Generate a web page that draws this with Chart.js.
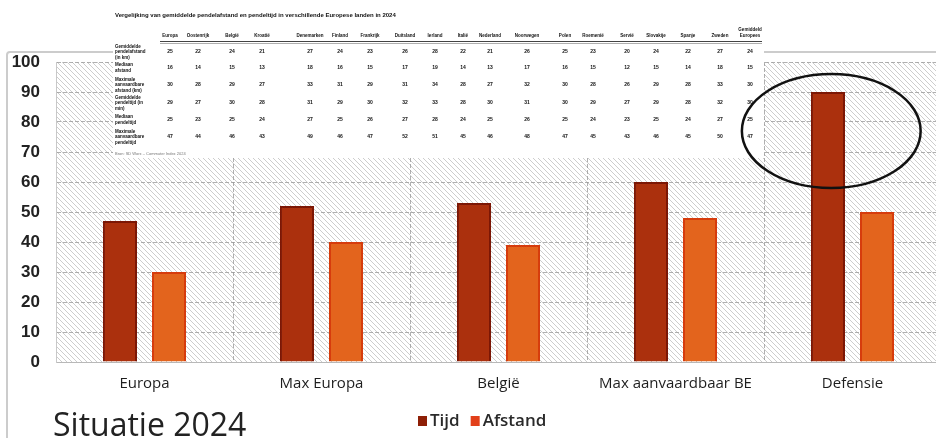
<!DOCTYPE html>
<html>
<head>
<meta charset="utf-8">
<title>Situatie 2024</title>
<script src="https://cdn.jsdelivr.net/npm/chart.js@4.4.1/dist/chart.umd.min.js"></script>
<style>
  html, body { margin: 0; padding: 0; background: #fff; overflow: hidden; }
  #wrap { width: 945px; height: 438px; }
</style>
</head>
<body>
<div id="wrap"><canvas id="chart" width="945" height="438"></canvas></div>
<script>
// --- chart data ---
const categories = ['Europa', 'Max Europa', 'België', 'Max aanvaardbaar BE', 'Defensie'];
const tijd = [47, 52, 53, 60, 90];
const afstand = [30, 40, 39, 48, 50];
const yTicks = [0, 10, 20, 30, 40, 50, 60, 70, 80, 90, 100];

// --- pasted table (top overlay) ---
const tableTitle = 'Vergelijking van gemiddelde pendelafstand en pendeltijd in verschillende Europese landen in 2024';
const tableCols = ['Europa', 'Oostenrijk', 'België', 'Kroatië', 'Denemarken', 'Finland', 'Frankrijk', 'Duitsland',
  'Ierland', 'Italië', 'Nederland', 'Noorwegen', 'Polen', 'Roemenië', 'Servië', 'Slovakije', 'Spanje', 'Zweden', 'Gemiddeld Europees'];
const tableRowLabels = [
  ['Gemiddelde', 'pendelafstand', '(in km)'],
  ['Mediaan', 'afstand'],
  ['Maximale', 'aanvaardbare', 'afstand (km)'],
  ['Gemiddelde', 'pendeltijd (in', 'min)'],
  ['Mediaan', 'pendeltijd'],
  ['Maximale', 'aanvaardbare', 'pendeltijd']
];
const rowAvgDist = [25, 22, 24, 21, 27, 24, 23, 26, 28, 22, 21, 26, 25, 23, 20, 24, 22, 27, 24];
const rowMedDist = [16, 14, 15, 13, 18, 16, 15, 17, 19, 14, 13, 17, 16, 15, 12, 15, 14, 18, 15];
const rowMaxDist = [30, 28, 29, 27, 33, 31, 29, 31, 34, 28, 27, 32, 30, 28, 26, 29, 28, 33, 30];
const rowAvgTime = [29, 27, 30, 28, 31, 29, 30, 32, 33, 28, 30, 31, 30, 29, 27, 29, 28, 32, 30];
const rowMedTime = [25, 23, 25, 24, 27, 25, 26, 27, 28, 24, 25, 26, 25, 24, 23, 25, 24, 27, 25];
const rowMaxTime = [47, 44, 46, 43, 49, 46, 47, 52, 51, 45, 46, 48, 47, 45, 43, 46, 45, 50, 47];
const tableNote = 'Bron: SD Worx – Commuter Index 2024';

// layout of the pasted table
const tableColX = [170, 198, 232, 262, 310, 340, 370, 405, 435, 463, 490, 527, 565, 593, 627, 656, 688, 720, 750];
const tableRowY = [52, 68, 85, 103, 120, 137];

// hatched background pattern
function makeHatch() {
  const s = 5;
  const c = document.createElement('canvas');
  c.width = s; c.height = s;
  const g = c.getContext('2d');
  g.fillStyle = '#ffffff';
  g.fillRect(0, 0, s, s);
  g.strokeStyle = '#cdcdcd';
  g.lineWidth = 1;
  g.beginPath();
  [-s, 0, s].forEach(k => { g.moveTo(k, 0); g.lineTo(k + s, s); });
  g.stroke();
  return g.createPattern(c, 'repeat');
}

const backdrop = {
  id: 'backdrop',
  beforeDraw(chart) {
    const { ctx, chartArea: a } = chart;
    ctx.save();
    ctx.fillStyle = '#fff';
    ctx.fillRect(0, 0, chart.width, chart.height);
    // outer frame
    ctx.strokeStyle = '#cccccc';
    ctx.lineWidth = 2;
    ctx.beginPath();
    ctx.moveTo(7, chart.height);
    ctx.lineTo(7, 55);
    ctx.quadraticCurveTo(7, 52, 10, 52);
    ctx.lineTo(chart.width, 52);
    ctx.stroke();
    ctx.fillStyle = makeHatch();
    ctx.fillRect(a.left, a.top, a.right - a.left, a.bottom - a.top);
    ctx.restore();
  }
};

const overlay = {
  id: 'overlay',
  afterDraw(chart) {
    const { ctx } = chart;
    const x = chart.scales.x, y = chart.scales.y;
    ctx.save();

    // pasted table
    ctx.fillStyle = '#ffffff';
    ctx.fillRect(113, 0, 651, 158);
    ctx.fillStyle = '#111';
    ctx.textBaseline = 'middle';
    ctx.textAlign = 'left';
    ctx.font = 'bold 6px "Liberation Sans"';
    ctx.fillText(tableTitle, 115, 15);

    ctx.font = 'bold 4.5px "Liberation Sans"';
    ctx.textAlign = 'center';
    tableCols.forEach((c, i) => {
      if (c.indexOf(' ') > 0 && i === tableCols.length - 1) {
        const parts = c.split(' ');
        ctx.fillText(parts[0], tableColX[i], 30);
        ctx.fillText(parts[1], tableColX[i], 36);
      } else {
        ctx.fillText(c, tableColX[i], 36);
      }
    });
    ctx.strokeStyle = '#444';
    ctx.lineWidth = 1.2;
    ctx.beginPath(); ctx.moveTo(160, 41.5); ctx.lineTo(762, 41.5); ctx.stroke();
    ctx.strokeStyle = '#999';
    ctx.lineWidth = 0.8;
    ctx.beginPath(); ctx.moveTo(160, 43.5); ctx.lineTo(762, 43.5); ctx.stroke();

    const rows = [rowAvgDist, rowMedDist, rowMaxDist, rowAvgTime, rowMedTime, rowMaxTime];
    rows.forEach((vals, r) => {
      const ry = tableRowY[r];
      const lines = tableRowLabels[r];
      ctx.textAlign = 'left';
      ctx.font = 'bold 4.5px "Liberation Sans"';
      lines.forEach((t, k) => ctx.fillText(t, 115, ry + (k - (lines.length - 1) / 2) * 5.5));
      ctx.textAlign = 'center';
      ctx.font = 'bold 5px "Liberation Sans"';
      vals.forEach((v, i) => ctx.fillText(String(v), tableColX[i], ry));
    });
    ctx.textAlign = 'left';
    ctx.fillStyle = '#777';
    ctx.font = '4px "Liberation Sans"';
    ctx.fillText(tableNote, 115, 154);

    // ellipse around Defensie
    const step = x.getPixelForValue(1) - x.getPixelForValue(0);
    const cx = x.getPixelForValue(4) - 0.12 * step;
    const cy = y.getPixelForValue(77);
    const ry = y.getPixelForValue(58) - y.getPixelForValue(77);
    ctx.strokeStyle = '#111';
    ctx.lineWidth = 2.5;
    ctx.beginPath();
    ctx.ellipse(cx, cy, 0.505 * step, ry, 0, 0, Math.PI * 2);
    ctx.stroke();

    // legend
    const ds = chart.data.datasets;
    let lx = 418;
    const ly = 421;
    ctx.font = '600 17px "Open Sans"';
    ctx.textAlign = 'left';
    ds.forEach(d => {
      ctx.fillStyle = d.legendColor;
      ctx.fillRect(lx, ly - 5, 9, 10);
      ctx.fillStyle = '#2a2a2a';
      ctx.fillText(d.label, lx + 12, ly);
      lx += 12 + ctx.measureText(d.label).width + 11;
    });

    // caption
    ctx.fillStyle = '#222';
    ctx.font = '500 32px "Open Sans"';
    ctx.textBaseline = 'alphabetic';
    ctx.fillText('Situatie 2024', 53, 436);
    ctx.restore();
  }
};

new Chart(document.getElementById('chart'), {
  type: 'bar',
  data: {
    labels: categories,
    datasets: [
      {
        label: 'Tijd',
        data: tijd,
        backgroundColor: '#ab300d',
        borderColor: '#7c1705',
        borderWidth: 2,
        legendColor: '#8e1f06',
        categoryPercentage: 0.554,
        barPercentage: 0.694
      },
      {
        label: 'Afstand',
        data: afstand,
        backgroundColor: '#e3641d',
        borderColor: '#d63c0d',
        borderWidth: 2,
        legendColor: '#e2401a',
        categoryPercentage: 0.554,
        barPercentage: 0.694
      }
    ]
  },
  options: {
    responsive: false,
    animation: false,
    devicePixelRatio: 1,
    layout: { padding: { top: 62, right: 4, left: 0, bottom: 0 } },
    plugins: {
      legend: { display: false },
      tooltip: { enabled: false }
    },
    scales: {
      x: {
        grid: { color: 'rgba(150,150,150,0.75)', drawTicks: false, offset: true },
        border: { color: '#b8b8b8', dash: [4, 2] },
        ticks: { color: '#1e1e1e', font: { family: 'Open Sans', size: 15, weight: '500' }, padding: 13 },
        afterFit: s => { s.height = 76; }
      },
      y: {
        min: 0,
        max: 100,
        afterBuildTicks: s => { s.ticks = yTicks.map(v => ({ value: v })); },
        grid: { color: 'rgba(150,150,150,0.75)', drawTicks: false },
        border: { color: '#c8c8c8', dash: [4, 2] },
        ticks: { color: '#222', font: { family: 'Liberation Sans', size: 17, weight: 'bold' }, padding: 16 },
        afterFit: s => { s.width = 56; }
      }
    }
  },
  plugins: [backdrop, overlay]
});
</script>
</body>
</html>
